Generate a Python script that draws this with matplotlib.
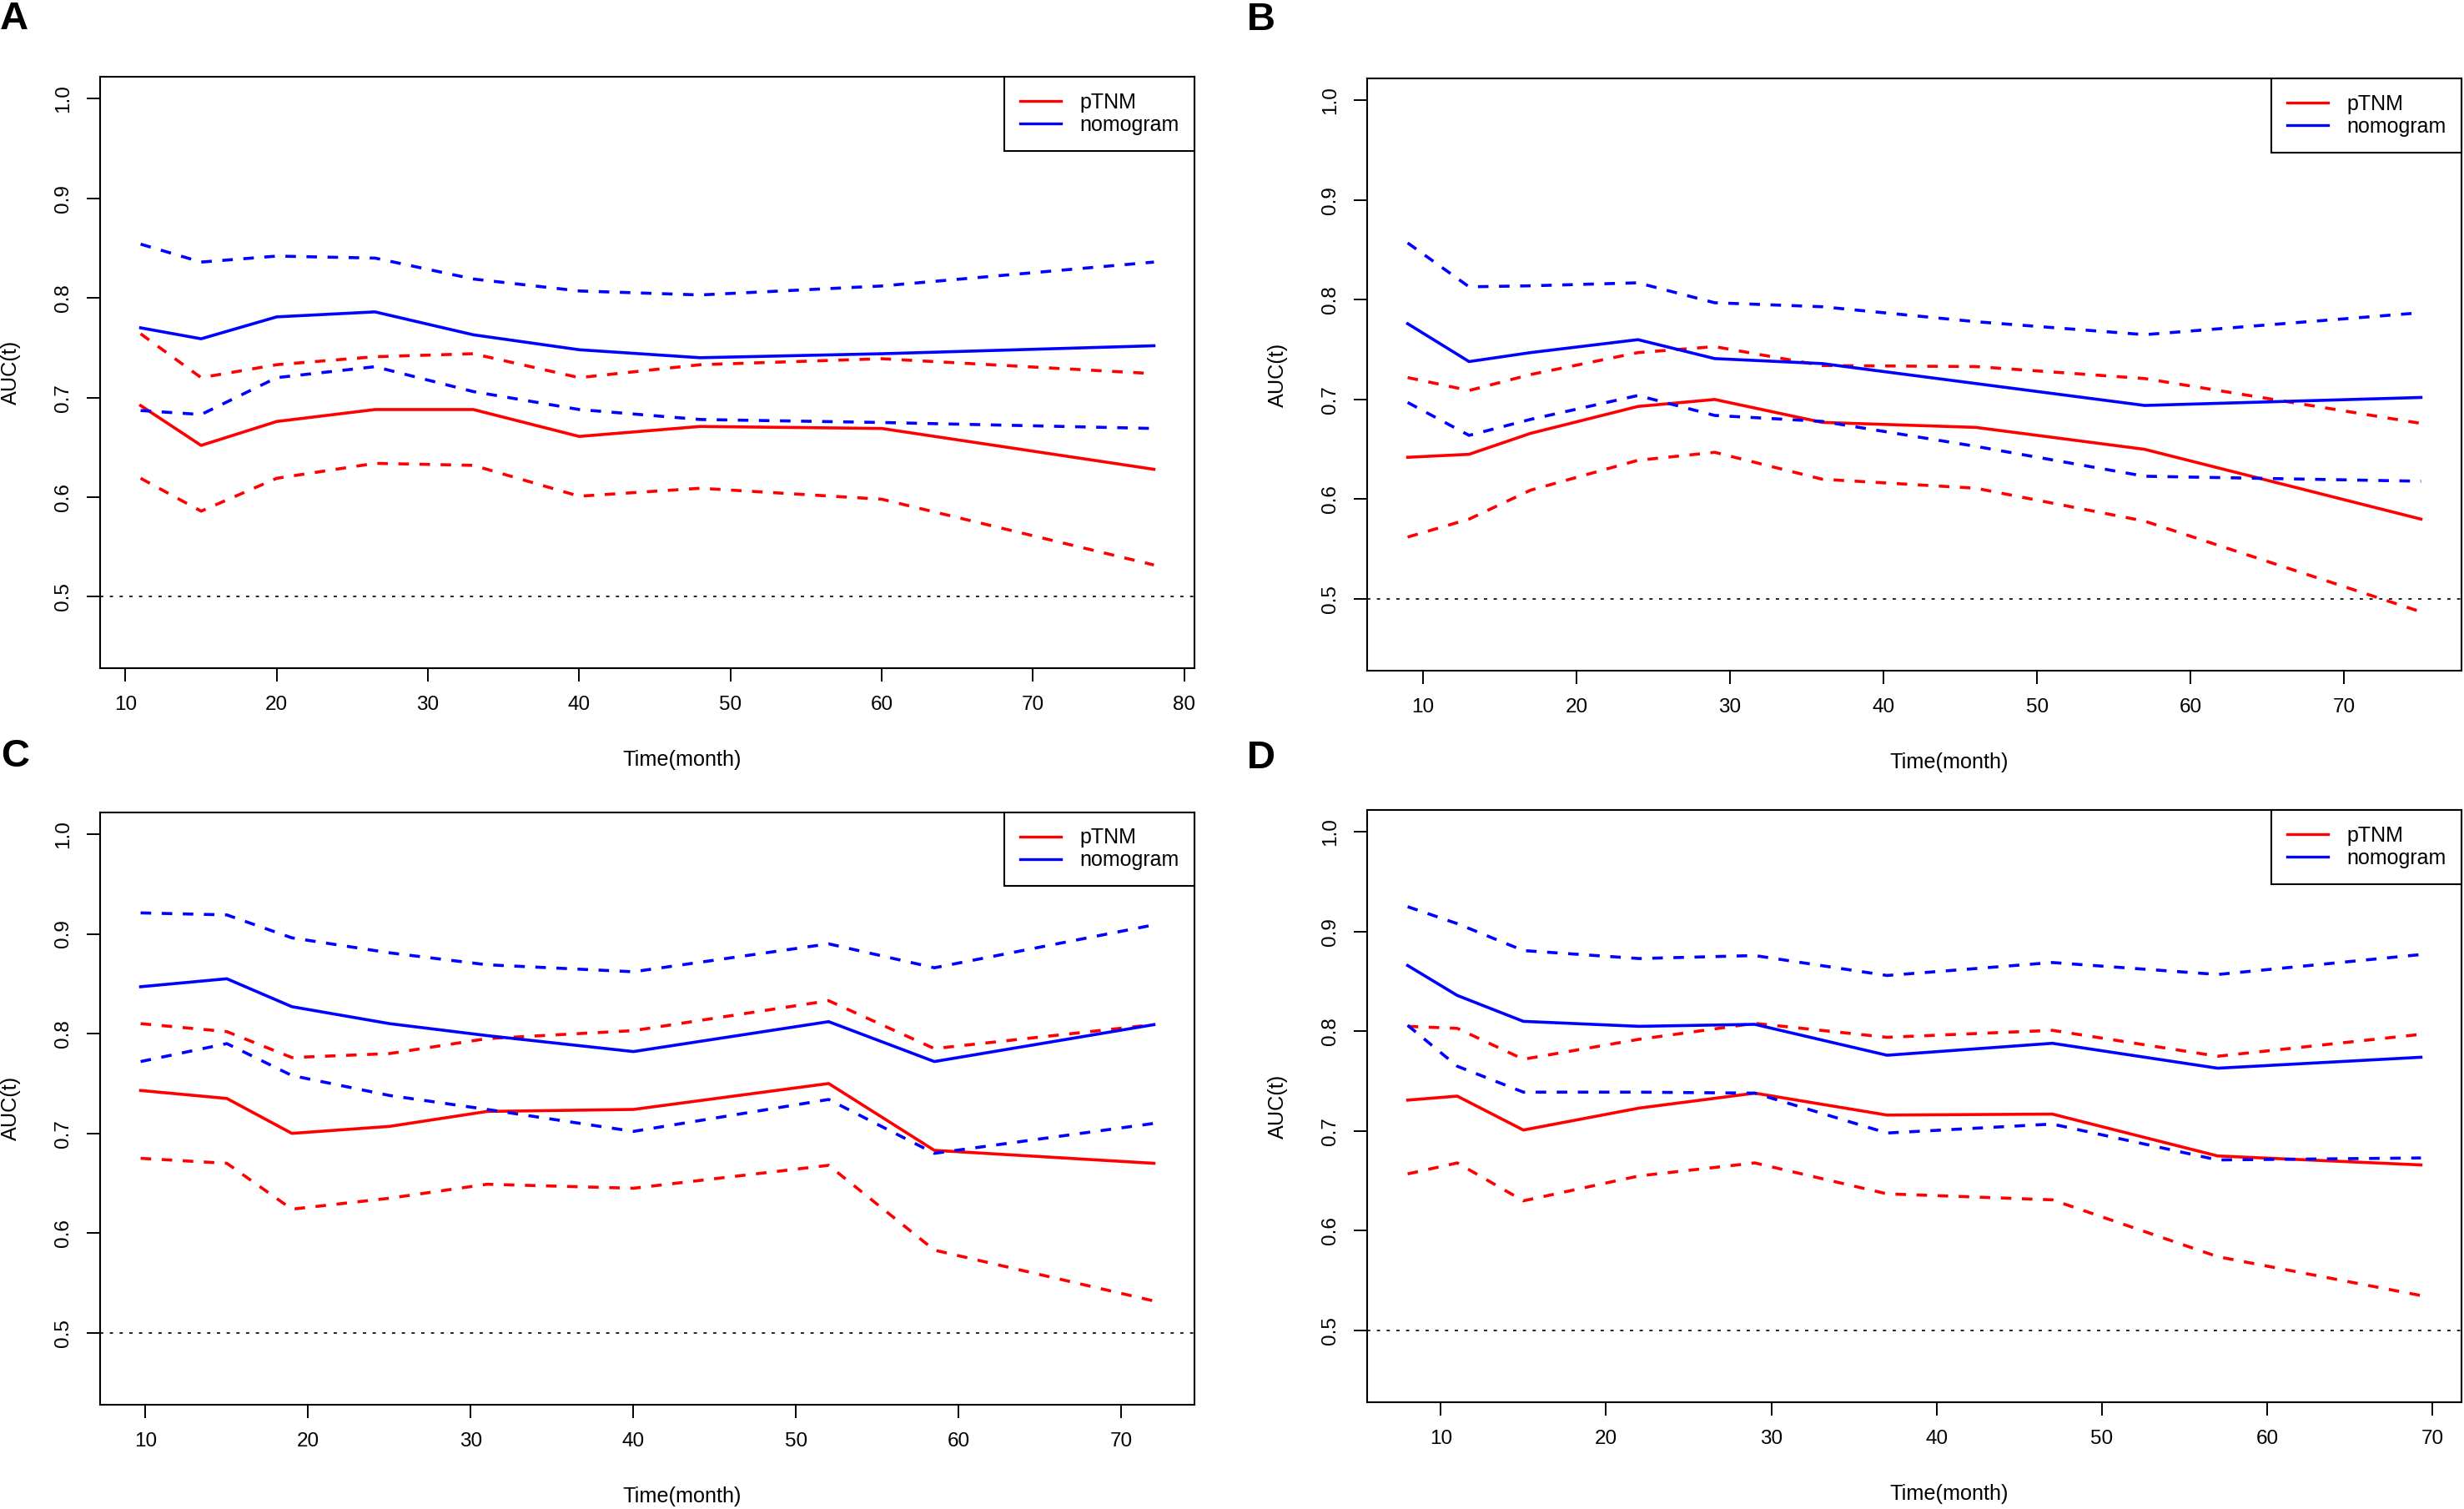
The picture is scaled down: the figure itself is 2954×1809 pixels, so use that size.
import matplotlib
matplotlib.use("Agg")
import matplotlib.pyplot as plt

plt.rcParams['font.family'] = ['Liberation Sans', 'DejaVu Sans']

# ---------------- data ----------------
a_time = [11, 15, 20, 26.5, 33, 40, 48, 60, 78]
a_nomo = [0.770, 0.759, 0.781, 0.786, 0.763, 0.748, 0.740, 0.744, 0.752]
a_nomo_hi = [0.854, 0.836, 0.842, 0.840, 0.819, 0.807, 0.803, 0.812, 0.836]
a_nomo_lo = [0.687, 0.683, 0.720, 0.731, 0.706, 0.688, 0.678, 0.675, 0.669]
a_ptnm = [0.692, 0.652, 0.676, 0.688, 0.688, 0.661, 0.671, 0.669, 0.628]
a_ptnm_hi = [0.764, 0.720, 0.733, 0.741, 0.744, 0.720, 0.733, 0.739, 0.724]
a_ptnm_lo = [0.619, 0.586, 0.619, 0.634, 0.632, 0.601, 0.609, 0.598, 0.532]

b_time = [9, 13, 17, 24, 29, 36, 46, 57, 75]
b_nomo = [0.776, 0.738, 0.747, 0.760, 0.741, 0.736, 0.716, 0.694, 0.702]
b_nomo_hi = [0.857, 0.813, 0.814, 0.817, 0.797, 0.793, 0.778, 0.765, 0.787]
b_nomo_lo = [0.697, 0.664, 0.680, 0.704, 0.684, 0.678, 0.653, 0.623, 0.618]
b_ptnm = [0.642, 0.645, 0.666, 0.693, 0.700, 0.677, 0.672, 0.650, 0.580]
b_ptnm_hi = [0.722, 0.709, 0.725, 0.747, 0.753, 0.734, 0.733, 0.721, 0.676]
b_ptnm_lo = [0.562, 0.580, 0.609, 0.639, 0.647, 0.620, 0.611, 0.578, 0.487]

c_time = [9.7, 15, 19, 25, 31, 40, 52, 58.5, 72]
c_nomo = [0.847, 0.855, 0.827, 0.810, 0.798, 0.782, 0.812, 0.772, 0.809]
c_nomo_hi = [0.921, 0.919, 0.896, 0.881, 0.869, 0.862, 0.890, 0.866, 0.909]
c_nomo_lo = [0.772, 0.790, 0.758, 0.738, 0.724, 0.702, 0.734, 0.680, 0.710]
c_ptnm = [0.743, 0.735, 0.700, 0.707, 0.722, 0.724, 0.750, 0.683, 0.670]
c_ptnm_hi = [0.810, 0.802, 0.776, 0.780, 0.795, 0.803, 0.833, 0.785, 0.809]
c_ptnm_lo = [0.675, 0.670, 0.624, 0.635, 0.649, 0.645, 0.668, 0.583, 0.532]

d_time = [8, 11, 15, 22, 29, 37, 47, 57, 69.3]
d_nomo = [0.866, 0.836, 0.810, 0.805, 0.807, 0.776, 0.788, 0.763, 0.774]
d_nomo_hi = [0.925, 0.908, 0.881, 0.873, 0.876, 0.856, 0.869, 0.857, 0.877]
d_nomo_lo = [0.806, 0.765, 0.739, 0.739, 0.738, 0.698, 0.707, 0.671, 0.673]
d_ptnm = [0.731, 0.735, 0.701, 0.723, 0.738, 0.716, 0.717, 0.675, 0.666]
d_ptnm_hi = [0.805, 0.803, 0.772, 0.792, 0.808, 0.794, 0.801, 0.775, 0.797]
d_ptnm_lo = [0.657, 0.668, 0.630, 0.655, 0.668, 0.637, 0.631, 0.574, 0.535]

panel_letters = ["A", "B", "C", "D"]
y_ticks = [0.5, 0.6, 0.7, 0.8, 0.9, 1.0]
x_ticks_a = [10, 20, 30, 40, 50, 60, 70, 80]
x_ticks_bcd = [10, 20, 30, 40, 50, 60, 70]
series_names = ["pTNM", "nomogram"]

panels = [
    (a_time, a_ptnm, a_ptnm_hi, a_ptnm_lo, a_nomo, a_nomo_hi, a_nomo_lo, x_ticks_a),
    (b_time, b_ptnm, b_ptnm_hi, b_ptnm_lo, b_nomo, b_nomo_hi, b_nomo_lo, x_ticks_bcd),
    (c_time, c_ptnm, c_ptnm_hi, c_ptnm_lo, c_nomo, c_nomo_hi, c_nomo_lo, x_ticks_bcd),
    (d_time, d_ptnm, d_ptnm_hi, d_ptnm_lo, d_nomo, d_nomo_hi, d_nomo_lo, x_ticks_bcd),
]

# ---------------- layout (pixels) ----------------
W, H = 2954, 1809
fig = plt.figure(figsize=(W / 100, H / 100), dpi=100)
fig.patch.set_facecolor("white")

boxes = [  # left, right, top, bottom in px
    (120, 1432, 92, 801.5),
    (1639, 2951, 94, 804),
    (120, 1432, 973.6, 1684),
    (1639, 2951, 971, 1681),
]
letter_pos = [(17, 23), (1512, 24), (18, 907), (1512, 909)]

RED = "#FF0000"
BLUE = "#0000FF"
LW = 2.6
DASH = (0, (3.5, 3.5))
FS = 17.5

for i, (box, data) in enumerate(zip(boxes, panels)):
    l, r, t, b = box
    ax = fig.add_axes([l / W, 1 - b / H, (r - l) / W, (b - t) / H])
    tm, pt, pth, ptl, nm, nmh, nml, xt = data

    ax.axhline(0.5, color="#222222", lw=1.4, ls=(0, (2, 4)), zorder=1)
    ax.plot(tm, pt, color=RED, lw=LW, label=series_names[0], zorder=3)
    ax.plot(tm, pth, color=RED, lw=LW, ls=DASH, zorder=3)
    ax.plot(tm, ptl, color=RED, lw=LW, ls=DASH, zorder=3)
    ax.plot(tm, nm, color=BLUE, lw=LW, label=series_names[1], zorder=4)
    ax.plot(tm, nmh, color=BLUE, lw=LW, ls=DASH, zorder=4)
    ax.plot(tm, nml, color=BLUE, lw=LW, ls=DASH, zorder=4)

    xmin, xmax = min(tm), max(tm)
    ext = 0.04 * (xmax - xmin)
    ax.set_xlim(xmin - ext, xmax + ext)
    ax.set_ylim(0.45 - 0.022, 1.0 + 0.022)

    ax.set_xticks(xt)
    ax.set_xticklabels([str(v) for v in xt])
    ax.set_yticks(y_ticks)
    ax.set_yticklabels(["%.1f" % v for v in y_ticks])
    ax.tick_params(axis="both", direction="out", length=11.5, width=1.4,
                   labelsize=FS, colors="black")
    ax.tick_params(axis="x", pad=12)
    ax.tick_params(axis="y", pad=12.5, labelrotation=90)
    for lab in ax.get_yticklabels():
        lab.set_va("center")
    for sp in ax.spines.values():
        sp.set_linewidth(1.5)
        sp.set_color("black")

    ax.set_xlabel("Time(month)", fontsize=18.2)
    ax.xaxis.set_label_coords(0.532, -110 / (b - t))
    ax.xaxis.label.set_va("center")
    ax.set_ylabel("AUC(t)", fontsize=18.2)
    ax.yaxis.set_label_coords(-107 / (r - l), 0.5)
    ax.yaxis.label.set_va("center")

    leg = ax.legend(loc="upper right", borderaxespad=0, fontsize=18,
                    frameon=True, fancybox=False, framealpha=1,
                    edgecolor="black", handlelength=1.96, handletextpad=0.88,
                    borderpad=0.75, labelspacing=0.12)
    leg.get_frame().set_linewidth(1.5)
    for ln in leg.get_lines():
        ln.set_linewidth(2.4)

    fig.text(letter_pos[i][0] / W, 1 - letter_pos[i][1] / H, panel_letters[i],
             fontsize=34, fontweight="bold", ha="center", va="center")

fig.savefig("out.png", dpi=100, facecolor="white")
